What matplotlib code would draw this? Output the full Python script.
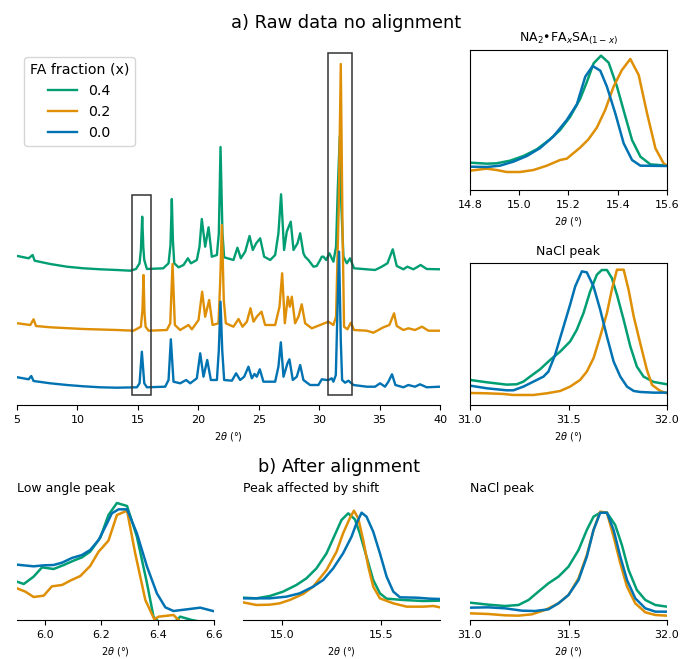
import matplotlib
matplotlib.use('Agg')
import matplotlib.pyplot as plt
from matplotlib.patches import Rectangle

# ---------------- data ----------------
fractions = ['0.4', '0.2', '0.0']
colors = ['#029E73', '#DE8F05', '#0173B2']

# a) raw patterns, stacked (arbitrary units)
raw_tth_04 = [5.05, 5.96, 6.29, 6.46, 7.75, 9.13, 10.5, 11.89, 13.27, 14.37, 14.85, 15.14, 15.25, 15.36, 15.45,
              15.53, 15.75, 17.1, 17.54, 17.70, 17.81, 17.90, 18.01, 18.37, 18.78, 19.14, 19.39, 19.88, 20.1,
              20.29, 20.57, 20.85, 21.12, 21.54, 21.7, 21.84, 22.0, 22.14, 22.91, 23.24, 23.52, 23.88, 24.24,
              24.51, 24.79, 25.12, 25.45, 25.95, 26.36, 26.63, 26.85, 27.1, 27.32, 27.65, 27.88, 28.21, 28.43,
              28.7, 28.84, 29.11, 29.53, 29.8, 30.08, 30.22, 30.36, 30.58, 30.85, 31.18, 31.40, 31.54, 31.71,
              31.84, 32.01, 32.29, 32.56, 32.89, 33.94, 34.63, 35.18, 35.65, 36.09, 36.42, 36.97, 37.3, 37.8,
              38.4, 38.9, 40.0]
raw_int_04 = [149, 146.7, 150, 144.3, 141, 138.3, 136.7, 135.7, 135, 134.3, 136, 141.7, 155, 188.3, 158,
              145, 136, 136.7, 141.7, 160, 206, 165, 141.7, 137.7, 140, 146.7, 141.7, 145, 158.3,
              186, 158.3, 177.7, 148.3, 150, 171.7, 258, 171.7, 147.7, 145, 157.3, 146.7, 153.3, 169,
              155, 161.7, 166.7, 148.3, 145, 150, 171.7, 210.7, 155, 173.3, 183.3, 155, 161.7, 171.7,
              151.7, 148.3, 145, 138.3, 139, 145, 148.3, 148.3, 145, 151.7, 143.3, 158.3, 215, 269,
              198.3, 148.3, 141.7, 146.7, 136.7, 135.7, 135, 138.3, 141.7, 155.7, 139, 135.7, 138.3, 135.7,
              140, 136, 135.7]

raw_tth_02 = [5.05, 6.1, 6.37, 6.57, 7.75, 10.5, 13.27, 14.64, 15.25, 15.38, 15.47, 15.55, 15.64, 15.89,
              17.4, 17.68, 17.87, 18.06, 18.5, 19.19, 19.47, 20.02, 20.32, 20.57, 20.9, 21.18, 21.67, 21.81,
              21.95, 22.11, 22.28, 22.91, 23.33, 23.66, 24.02, 24.32, 24.57, 24.84, 25.23, 25.53, 26.36,
              26.72, 26.94, 27.16, 27.41, 27.57, 27.74, 28.01, 28.29, 28.56, 28.84, 29.39, 30.08, 30.77,
              31.18, 31.40, 31.62, 31.79, 31.93, 32.06, 32.34, 32.62, 32.89, 33.94, 34.49, 35.32, 35.81,
              36.2, 36.42, 36.97, 37.38, 37.93, 38.51, 39.04, 40.0]
raw_int_02 = [81.7, 80, 85.7, 79, 77.7, 76, 75, 74.3, 78.3, 95, 130, 92, 78.3, 74.3,
              75, 81.7, 141, 80, 75, 80, 75.7, 85, 113.3, 88.3, 105, 80, 81.7, 121.7,
              180, 105, 81.7, 78.3, 86, 78.3, 83.3, 96.7, 83.3, 88.3, 93.3, 80, 80,
              98.3, 131.7, 81.7, 108.3, 98.3, 108.3, 81.7, 88.3, 100.7, 81.7, 76.7, 80, 83.3,
              80, 88.3, 198, 341, 181.7, 78.3, 75.7, 82.3, 75, 74.3, 72.3, 77.7, 80,
              91.7, 79, 75, 76.7, 75, 78.3, 74.3, 74.3]

raw_tth_00 = [5.05, 5.96, 6.18, 6.37, 7.75, 9.13, 10.5, 11.89, 13.27, 14.92, 15.14, 15.33, 15.53, 15.75,
              17.26, 17.54, 17.73, 17.95, 18.5, 19.0, 19.33, 19.88, 20.16, 20.43, 20.74, 21.04, 21.54, 21.7,
              21.84, 21.98, 22.14, 22.78, 23.13, 23.46, 23.8, 24.15, 24.43, 24.65, 24.84, 25.09, 25.39,
              26.36, 26.63, 26.83, 27.05, 27.38, 27.54, 27.82, 28.15, 28.43, 28.7, 29.25, 29.94, 30.22,
              30.63, 30.77, 31.04, 31.18, 31.38, 31.51, 31.65, 31.79, 31.9, 32.15, 32.42, 32.84, 33.94,
              34.63, 35.04, 35.45, 35.73, 36.03, 36.31, 36.97, 37.38, 37.93, 38.35, 38.9, 40.0]
raw_int_00 = [27.7, 25.7, 29, 24, 21.7, 20, 18.7, 17.7, 17.3, 17.7, 21.7, 53.3, 21.7, 17.7,
              18.3, 25, 65.7, 23.3, 21.7, 25, 21.7, 26.7, 51.7, 28.3, 45, 25, 25, 55,
              103.3, 55, 25, 24.3, 31.7, 25, 28.3, 38.3, 26.7, 31, 28.3, 35.7, 23.3,
              23.3, 38.3, 62.7, 28.3, 41.7, 45.7, 25, 28.3, 40, 25, 20, 20, 25.7,
              25, 25, 26.7, 23.3, 30, 91.7, 153.3, 65, 25, 22.3, 24.3, 20, 18.3,
              18.3, 21.7, 18.3, 23.3, 30.7, 20, 17.7, 20, 18.3, 20.7, 17.7, 18.3]

box_ranges = [(14.5, 16.05), (30.72, 32.75)]
box_tops = [210, 352]
box_bottom = 10

# a) zoom: NA2.FAxSA(1-x) peak (raw, no alignment)
zA_tth_04 = [14.800, 14.868, 14.908, 14.963, 15.017, 15.071, 15.125, 15.166, 15.207, 15.247, 15.275, 15.302,
             15.332, 15.363, 15.397, 15.431, 15.458, 15.492, 15.532, 15.600]
zA_int_04 = [82, 79, 80, 88, 102, 122, 152, 180, 220, 273, 325, 380, 403, 382, 310, 220, 150, 100, 77, 73]
zA_tth_02 = [14.800, 14.868, 14.908, 14.949, 15.003, 15.058, 15.112, 15.166, 15.193, 15.247, 15.281, 15.315,
             15.349, 15.383, 15.417, 15.451, 15.485, 15.519, 15.553, 15.586, 15.600]
zA_int_02 = [58, 64, 60, 54, 54, 60, 73, 90, 94, 127, 152, 187, 240, 310, 360, 393, 345, 230, 125, 80, 73]
zA_tth_00 = [14.800, 14.868, 14.922, 14.976, 15.031, 15.085, 15.139, 15.193, 15.234, 15.268, 15.298, 15.329,
             15.356, 15.390, 15.424, 15.458, 15.492, 15.600]
zA_int_00 = [70, 69, 73, 85, 102, 126, 161, 210, 257, 340, 372, 358, 310, 230, 140, 90, 73, 72]

# a) zoom: NaCl peak (raw)
zB_tth_04 = [31.000, 31.085, 31.186, 31.237, 31.271, 31.305, 31.356, 31.407, 31.458, 31.508, 31.542, 31.576,
             31.610, 31.644, 31.669, 31.695, 31.720, 31.746, 31.780, 31.814, 31.847, 31.881, 31.932, 32.000]
zB_int_04 = [75, 68, 61, 62, 70, 85, 107, 135, 160, 190, 225, 275, 340, 390, 404, 404, 380, 330, 255, 175,
             115, 85, 69, 62]
zB_tth_02 = [31.000, 31.085, 31.169, 31.220, 31.322, 31.390, 31.458, 31.508, 31.559, 31.593, 31.627, 31.661,
             31.695, 31.720, 31.746, 31.780, 31.805, 31.831, 31.864, 31.898, 31.924, 31.966, 32.000]
zB_int_02 = [36, 35, 33, 30, 30, 35, 42, 55, 75, 100, 140, 205, 275, 345, 405, 405, 345, 265, 185, 105, 60,
             42, 35]
zB_tth_00 = [31.000, 31.085, 31.186, 31.220, 31.271, 31.322, 31.373, 31.398, 31.432, 31.475, 31.508, 31.534,
             31.568, 31.593, 31.627, 31.661, 31.695, 31.729, 31.763, 31.797, 31.831, 31.864, 31.932, 32.000]
zB_int_00 = [58, 50, 44, 44, 55, 70, 85, 100, 150, 235, 300, 355, 400, 397, 355, 285, 205, 130, 85, 55, 42,
             39, 37, 37]

# b) aligned: low angle peak
bL_tth_04 = [5.900, 5.924, 5.959, 5.989, 6.030, 6.066, 6.101, 6.131, 6.160, 6.196, 6.225, 6.255, 6.291, 6.326,
             6.362, 6.385, 6.403, 6.433, 6.456, 6.480, 6.521, 6.551]
bL_int_04 = [115, 108, 130, 158, 153, 165, 178, 188, 205, 247, 315, 351, 342, 250, 110, 10, -5, -15, -10, 10,
             0, -5]
bL_tth_02 = [5.900, 5.930, 5.959, 5.995, 6.024, 6.060, 6.089, 6.125, 6.160, 6.190, 6.225, 6.255, 6.291, 6.320,
             6.356, 6.388, 6.403, 6.456, 6.480, 6.504, 6.551]
bL_int_02 = [95, 85, 69, 73, 101, 105, 118, 132, 162, 205, 238, 315, 328, 200, 60, 2, 10, 15, -5, -10, -10]
bL_tth_00 = [5.900, 5.959, 5.995, 6.030, 6.060, 6.095, 6.131, 6.160, 6.190, 6.220, 6.237, 6.261, 6.291, 6.326,
             6.362, 6.397, 6.427, 6.456, 6.504, 6.551, 6.601]
bL_int_00 = [166, 161, 164, 165, 172, 186, 195, 210, 240, 290, 320, 332, 332, 260, 160, 80, 38, 27, 32, 37, 26]

# b) aligned: peak affected by shift
bS_tth_04 = [14.800, 14.868, 14.936, 15.003, 15.071, 15.122, 15.173, 15.224, 15.266, 15.300, 15.334, 15.368,
             15.393, 15.427, 15.461, 15.495, 15.529, 15.614, 15.715, 15.800]
bS_int_04 = [67, 65, 72, 85, 105, 125, 155, 200, 255, 300, 320, 302, 260, 190, 120, 80, 64, 60, 57, 58]
bS_tth_02 = [14.800, 14.868, 14.936, 14.986, 15.037, 15.105, 15.156, 15.224, 15.275, 15.308, 15.342, 15.363,
             15.385, 15.410, 15.436, 15.461, 15.495, 15.563, 15.631, 15.715, 15.766, 15.800]
bS_int_02 = [53, 45, 46, 50, 60, 78, 100, 150, 205, 260, 305, 328, 305, 240, 160, 100, 65, 50, 40, 40, 42, 38]
bS_tth_00 = [14.800, 14.868, 14.936, 15.020, 15.088, 15.156, 15.207, 15.258, 15.308, 15.351, 15.376, 15.402,
             15.427, 15.461, 15.495, 15.529, 15.563, 15.597, 15.681, 15.749, 15.800]
bS_int_00 = [65, 65, 65, 70, 80, 100, 120, 155, 200, 250, 290, 322, 310, 265, 200, 130, 85, 68, 67, 64, 63]

# b) aligned: NaCl peak
bN_tth_04 = [31.000, 31.093, 31.178, 31.246, 31.297, 31.347, 31.398, 31.449, 31.500, 31.551, 31.593, 31.627,
             31.661, 31.695, 31.737, 31.771, 31.805, 31.847, 31.890, 31.941, 32.000]
bN_int_04 = [52, 46, 42, 45, 60, 85, 110, 130, 160, 210, 270, 310, 322, 322, 285, 225, 150, 90, 60, 45, 40]
bN_tth_02 = [31.000, 31.093, 31.178, 31.246, 31.314, 31.381, 31.449, 31.500, 31.551, 31.593, 31.627, 31.661,
             31.695, 31.729, 31.763, 31.797, 31.839, 31.890, 31.941, 32.000]
bN_int_02 = [20, 18, 14, 13, 17, 30, 50, 75, 125, 195, 270, 325, 322, 250, 170, 100, 50, 23, 15, 13]
bN_tth_00 = [31.000, 31.093, 31.178, 31.263, 31.331, 31.398, 31.449, 31.500, 31.551, 31.593, 31.627, 31.661,
             31.695, 31.729, 31.763, 31.797, 31.839, 31.890, 31.941, 32.000]
bN_int_00 = [37, 38, 35, 28, 27, 32, 50, 75, 120, 190, 270, 322, 322, 270, 190, 120, 65, 35, 25, 25]

# ---------------- figure ----------------
W, H = 683, 659
fig = plt.figure(figsize=(W / 100, H / 100), dpi=100)


def add_ax(x0, y0, x1, y1):
    return fig.add_axes([x0 / W, 1 - y1 / H, (x1 - x0) / W, (y1 - y0) / H])


TICK = 8
XL = r'$2\theta$ (°)'

main = add_ax(17, 50, 440, 405)
tr = add_ax(470, 50, 667, 190)
br = add_ax(470, 263, 667, 405)
b1 = add_ax(17, 500, 214, 620)
b2 = add_ax(243, 500, 440, 620)
b3 = add_ax(470, 500, 667, 620)

# main stacked raw data
main_x = [raw_tth_04, raw_tth_02, raw_tth_00]
main_y = [raw_int_04, raw_int_02, raw_int_00]
for xs, ys, c, lab in zip(main_x, main_y, colors, fractions):
    main.plot(xs, ys, color=c, lw=1.7, label=lab)
for (a, b), top in zip(box_ranges, box_tops):
    main.add_patch(Rectangle((a, box_bottom), b - a, top - box_bottom, fill=False,
                             edgecolor='#333333', lw=1.1, zorder=5))
main.set_xlim(5, 40)
main.set_ylim(0, 355)
main.set_xticks([5, 10, 15, 20, 25, 30, 35, 40])
main.set_yticks([])
for s in ['top', 'right', 'left']:
    main.spines[s].set_visible(False)
main.tick_params(labelsize=TICK)
main.set_xlabel(XL, fontsize=7)
leg = main.legend(title='FA fraction (x)', loc='upper left', fontsize=10.2, title_fontsize=10.2)

# right zooms
for ax, xsets, ysets, xl, ticks, yl, title in [
    (tr, [zA_tth_04, zA_tth_02, zA_tth_00], [zA_int_04, zA_int_02, zA_int_00], (14.8, 15.6),
     [14.8, 15.0, 15.2, 15.4, 15.6], (0, 420), r'NA$_2$•FA$_x$SA$_{(1-x)}$'),
    (br, [zB_tth_04, zB_tth_02, zB_tth_00], [zB_int_04, zB_int_02, zB_int_00], (31.0, 32.0),
     [31.0, 31.5, 32.0], (0, 425), 'NaCl peak'),
]:
    for xs, ys, c in zip(xsets, ysets, colors):
        ax.plot(xs, ys, color=c, lw=1.8)
    ax.set_xlim(*xl)
    ax.set_ylim(*yl)
    ax.set_xticks(ticks)
    ax.set_yticks([])
    ax.tick_params(labelsize=TICK)
    ax.set_xlabel(XL, fontsize=7)
    ax.set_title(title, fontsize=9)

# bottom aligned
for ax, xsets, ysets, xl, ticks, title in [
    (b1, [bL_tth_04, bL_tth_02, bL_tth_00], [bL_int_04, bL_int_02, bL_int_00], (5.9, 6.6),
     [6.0, 6.2, 6.4, 6.6], 'Low angle peak'),
    (b2, [bS_tth_04, bS_tth_02, bS_tth_00], [bS_int_04, bS_int_02, bS_int_00], (14.8, 15.8),
     [15.0, 15.5], 'Peak affected by shift'),
    (b3, [bN_tth_04, bN_tth_02, bN_tth_00], [bN_int_04, bN_int_02, bN_int_00], (31.0, 32.0),
     [31.0, 31.5, 32.0], 'NaCl peak'),
]:
    for xs, ys, c in zip(xsets, ysets, colors):
        ax.plot(xs, ys, color=c, lw=1.8)
    ax.set_xlim(*xl)
    ax.set_ylim(0, 360)
    ax.set_xticks(ticks)
    ax.set_yticks([])
    for s in ['top', 'right', 'left']:
        ax.spines[s].set_visible(False)
    ax.tick_params(labelsize=TICK)
    ax.set_xlabel(XL, fontsize=7)
    ax.set_title(title, fontsize=9, loc='left')

fig.text(346.5 / W, 1 - 23 / H, 'a) Raw data no alignment', fontsize=12.8, ha='center', va='center')
fig.text(338.5 / W, 1 - 467 / H, 'b) After alignment', fontsize=12.8, ha='center', va='center')

fig.savefig('out.png', dpi=100)
